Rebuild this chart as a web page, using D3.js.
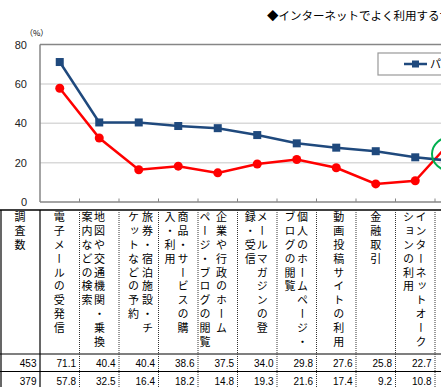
<!DOCTYPE html>
<html><head><meta charset="utf-8">
<script src="https://cdn.jsdelivr.net/npm/d3@7"></script>
<style>
html,body{margin:0;padding:0;background:#fff;overflow:hidden;}
svg{display:block;}
</style></head><body>
<svg id="c" width="441" height="387"></svg>
<script>
const title = "◆インターネットでよく利用するサービス";
const unitLabel = "（%）";
const categories = [
  "電子メールの受発信",
  "地図や交通機関・乗換\n案内などの検索",
  "旅券・宿泊施設・チ\nケットなどの予約",
  "商品・サービスの購\n入・利用",
  "企業や行政のホーム\nページ・ブログの閲覧",
  "メールマガジンの登\n録・受信",
  "個人のホームページ・\nブログの閲覧",
  "動画投稿サイトの利用",
  "金融取引",
  "インターネットオーク\nションの利用",
  "ＳＮＳの利用"
];
const seriesNames = ["パソコン", "携帯電話"];
const countHeader = "調査数";
const surveyCounts = [453, 379];
const pcValues = [71.1, 40.4, 40.4, 38.6, 37.5, 34.0, 29.8, 27.6, 25.8, 22.7, 20.7];
const mobileValues = [57.8, 32.5, 16.4, 18.2, 14.8, 19.3, 21.6, 17.4, 9.2, 10.8, 32.8];
const yTicks = [0, 20, 40, 60, 80];

// header text layout (block shift, line spacing) per column — styling only
const headerLayout = [[-0.5, 12.5], [-6, 12.5], [1.75, 14], [-1.75, 13], [-4.5, 16.5], [-1, 12], [-0.5, 12.5], [2.5, 12.5], [0, 12.5], [-0.5, 12.5], [0, 12.5]];

const BLUE = "#1F497D", RED = "#FF0000";
const svg = d3.select("#c");
const jp = "'Noto Sans CJK JP','Noto Sans',sans-serif";
const num = "'Liberation Sans',Arial,sans-serif";

const x = d3.scaleBand().domain(d3.range(categories.length)).range([40, 40 + 39.5 * categories.length]);
const y = d3.scaleLinear().domain([0, 80]).range([202, 44.5]);
const cx = i => x(i) + x.bandwidth() / 2;

// title
svg.append("text").attr("x", 267).attr("y", 19.5).text(title)
  .style("font-family", jp).style("font-size", "11.5px").attr("fill", "#000");
svg.append("text").attr("x", 25).attr("y", 36).text(unitLabel)
  .style("font-family", jp).style("font-size", "8px").attr("fill", "#000");

// gridlines
svg.append("g").selectAll("line").data(yTicks.filter(t => t > 0 && t < 80)).join("line")
  .attr("x1", 40).attr("x2", 600).attr("y1", d => y(d)).attr("y2", d => y(d))
  .attr("stroke", "#d9d9d9").attr("stroke-width", 1.5);

// frame
const frameColor = "#868686";
svg.append("line").attr("x1", 40).attr("x2", 600).attr("y1", y(80)).attr("y2", y(80)).attr("stroke", frameColor).attr("stroke-width", 1.5);
svg.append("line").attr("x1", 40).attr("x2", 40).attr("y1", y(80)).attr("y2", y(0)).attr("stroke", frameColor).attr("stroke-width", 1.5);
svg.append("line").attr("x1", 40).attr("x2", 600).attr("y1", y(0)).attr("y2", y(0)).attr("stroke", frameColor).attr("stroke-width", 1.5);
svg.append("g").selectAll("line").data(d3.range(1, categories.length + 1)).join("line")
  .attr("x1", d => 40 + x.step() * d).attr("x2", d => 40 + x.step() * d)
  .attr("y1", y(0)).attr("y2", y(0) - 3.5).attr("stroke", frameColor).attr("stroke-width", 1);

// y axis labels
const ya = svg.append("g").attr("transform", "translate(40,0)")
  .call(d3.axisLeft(y).tickValues(yTicks).tickSize(0).tickPadding(13));
ya.select(".domain").remove();
ya.selectAll("text").style("font-family", num).style("font-size", "11px").attr("fill", "#222");

// lines
const line = d3.line().x((d, i) => cx(i)).y(d => y(d));
svg.append("path").datum(mobileValues).attr("d", line).attr("fill", "none").attr("stroke", RED).attr("stroke-width", 2.5);
svg.append("path").datum(pcValues).attr("d", line).attr("fill", "none").attr("stroke", BLUE).attr("stroke-width", 2.5);
svg.append("g").selectAll("circle").data(mobileValues).join("circle")
  .attr("cx", (d, i) => cx(i)).attr("cy", d => y(d)).attr("r", 4.5).attr("fill", RED);
svg.append("g").selectAll("rect").data(pcValues).join("rect")
  .attr("x", (d, i) => cx(i) - 4).attr("y", d => y(d) - 4).attr("width", 8).attr("height", 8).attr("fill", BLUE);

// highlight circle
svg.append("ellipse").attr("cx", 451).attr("cy", 154).attr("rx", 19).attr("ry", 17)
  .attr("fill", "none").attr("stroke", "#00B050").attr("stroke-width", 2);

// legend
const lg = svg.append("g");
lg.append("rect").attr("x", 378).attr("y", 53).attr("width", 220).attr("height", 22)
  .attr("fill", "#fff").attr("stroke", "#999").attr("stroke-width", 1.2);
[BLUE, RED].forEach((c, k) => {
  const lx = 404 + k * 100;
  lg.append("line").attr("x1", lx).attr("x2", lx + 23).attr("y1", 64).attr("y2", 64).attr("stroke", c).attr("stroke-width", 2.5);
  if (k === 0) lg.append("rect").attr("x", lx + 8).attr("y", 60.5).attr("width", 7).attr("height", 7).attr("fill", c);
  else lg.append("circle").attr("cx", lx + 11.5).attr("cy", 64).attr("r", 4).attr("fill", c);
  lg.append("text").attr("x", lx + 26).attr("y", 68).text(seriesNames[k])
    .style("font-family", jp).style("font-size", "11px").attr("fill", "#000");
});

// table
const tTop = 210, tHead = 354, tRow1 = 371.5, tBot = 390;
const tg = svg.append("g");
[tTop, tHead, tRow1].forEach(yy => tg.append("line").attr("x1", 0).attr("x2", 600).attr("y1", yy).attr("y2", yy)
  .attr("stroke", "#000").attr("stroke-width", yy === tTop ? 1.5 : 1.2));
tg.append("line").attr("x1", 1).attr("x2", 1).attr("y1", tTop).attr("y2", tBot).attr("stroke", "#000").attr("stroke-width", 1.2);
tg.append("line").attr("x1", 40).attr("x2", 40).attr("y1", tTop).attr("y2", tBot).attr("stroke", "#000").attr("stroke-width", 1.2);
tg.selectAll("line.sep").data(d3.range(1, categories.length + 1)).join("line").attr("class", "sep")
  .attr("x1", d => 40 + x.step() * d).attr("x2", d => 40 + x.step() * d)
  .attr("y1", tTop).attr("y2", tBot).attr("stroke", "#333").attr("stroke-width", 1)
  .attr("stroke-dasharray", "1,1");

function vText(cxp, lines, lh) {
  const n = lines.length;
  lines.forEach((s, j) => {
    const xx = cxp + ((n - 1) / 2 - j) * lh;
    tg.append("text").attr("x", xx).attr("y", 211.5).text(s)
      .style("writing-mode", "vertical-rl").style("font-family", jp)
      .style("font-size", "11px").style("letter-spacing", "2.85px").attr("fill", "#000");
  });
}
vText(20, [countHeader], 12.5);
categories.forEach((c, i) => vText(cx(i) + headerLayout[i][0], c.split("\n"), headerLayout[i][1]));

// numbers
const rows = [pcValues, mobileValues];
const rowBase = [366.5, 384.5];
rows.forEach((vals, r) => {
  tg.append("text").attr("x", 36.5).attr("y", rowBase[r]).attr("text-anchor", "end").text(surveyCounts[r])
    .style("font-family", num).style("font-size", "10px");
  vals.forEach((v, i) => tg.append("text").attr("x", x(i) + x.step() - 3.5).attr("y", rowBase[r])
    .attr("text-anchor", "end").text(v.toFixed(1)).style("font-family", num).style("font-size", "10px"));
});
</script>
</body></html>
